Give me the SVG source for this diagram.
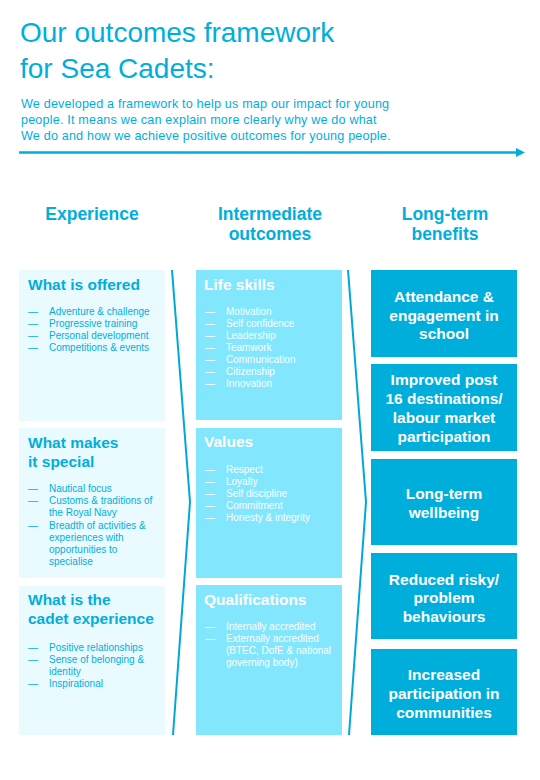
<svg xmlns="http://www.w3.org/2000/svg" width="540" height="780" viewBox="0 0 540 780">
<style>
text{font-family:"Liberation Sans",Arial,sans-serif;}
.title{font-size:28px;fill:#00aedb;}
.para{font-size:12.6px;letter-spacing:0.18px;fill:#00aedb;}
.colh{font-size:17.5px;font-weight:bold;fill:#00aedb;text-anchor:middle;}
.exp{fill:#e9fbff;}
.mid{fill:#82e6fd;}
.ben{fill:#00aedb;}
.h1{font-size:15.5px;font-weight:bold;fill:#00aedb;}
.h2{font-size:15.5px;font-weight:bold;fill:#ffffff;}
.b1{font-size:10px;fill:#00aedb;}
.b2{font-size:10px;fill:#ffffff;}
.bt{font-size:15.5px;font-weight:bold;fill:#ffffff;text-anchor:middle;}
.chev{fill:none;stroke:#00a8d8;stroke-width:2;stroke-linejoin:miter;}
</style>
<rect width="540" height="780" fill="#ffffff"/>
<g id="header">
<text class="title" x="20" y="42">Our outcomes framework</text>
<text class="title" x="20" y="78">for Sea Cadets:</text>
<text class="para" x="21" y="108">We developed a framework to help us map our impact for young</text>
<text class="para" x="21" y="124">people. It means we can explain more clearly why we do what</text>
<text class="para" x="21" y="140">We do and how we achieve positive outcomes for young people.</text>
</g>
<g id="column-headers">
<text class="colh" x="92" y="220">Experience</text>
<text class="colh" x="270" y="220">Intermediate</text>
<text class="colh" x="270" y="240">outcomes</text>
<text class="colh" x="445" y="220">Long-term</text>
<text class="colh" x="445" y="240">benefits</text>
</g>
<g id="connectors">
<line x1="19" y1="152.5" x2="517" y2="152.5" stroke="#00aedb" stroke-width="2.7"/>
<polygon points="516,148 525,152.5 516,157" fill="#00aedb"/>
<polyline class="chev" points="172,270 190,502 173,735"/>
<polyline class="chev" points="348,270 366,502 349,735"/>
</g>
<g id="what-is-offered">
<rect class="exp" x="19" y="270" width="146" height="151"/>
<text class="h1" x="28" y="289.5">What is offered</text>
<text class="b1" x="28" y="315">—</text><text class="b1" x="49" y="315">Adventure &amp; challenge</text>
<text class="b1" x="28" y="327">—</text><text class="b1" x="49" y="327">Progressive training</text>
<text class="b1" x="28" y="339">—</text><text class="b1" x="49" y="339">Personal development</text>
<text class="b1" x="28" y="351">—</text><text class="b1" x="49" y="351">Competitions &amp; events</text>
</g>
<g id="what-makes-it-special">
<rect class="exp" x="19" y="428" width="146" height="150"/>
<text class="h1" x="28" y="448">What makes</text>
<text class="h1" x="28" y="467">it special</text>
<text class="b1" x="28" y="492">—</text><text class="b1" x="49" y="492">Nautical focus</text>
<text class="b1" x="28" y="504.2">—</text><text class="b1" x="49" y="504.2">Customs &amp; traditions of</text>
<text class="b1" x="49" y="516.4">the Royal Navy</text>
<text class="b1" x="28" y="528.6">—</text><text class="b1" x="49" y="528.6">Breadth of activities &amp;</text>
<text class="b1" x="49" y="540.8">experiences with</text>
<text class="b1" x="49" y="553">opportunities to</text>
<text class="b1" x="49" y="565.2">specialise</text>
</g>
<g id="cadet-experience">
<rect class="exp" x="19" y="586" width="146" height="149"/>
<text class="h1" x="28" y="605">What is the</text>
<text class="h1" x="28" y="624">cadet experience</text>
<text class="b1" x="28" y="651">—</text><text class="b1" x="49" y="651">Positive relationships</text>
<text class="b1" x="28" y="663">—</text><text class="b1" x="49" y="663">Sense of belonging &amp;</text>
<text class="b1" x="49" y="675">identity</text>
<text class="b1" x="28" y="687">—</text><text class="b1" x="49" y="687">Inspirational</text>
</g>
<g id="life-skills">
<rect class="mid" x="196" y="270" width="146" height="150"/>
<text class="h2" x="204" y="289.5">Life skills</text>
<text class="b2" x="205" y="314.5">—</text><text class="b2" x="226" y="314.5">Motivation</text>
<text class="b2" x="205" y="326.5">—</text><text class="b2" x="226" y="326.5">Self confidence</text>
<text class="b2" x="205" y="338.5">—</text><text class="b2" x="226" y="338.5">Leadership</text>
<text class="b2" x="205" y="350.5">—</text><text class="b2" x="226" y="350.5">Teamwork</text>
<text class="b2" x="205" y="362.5">—</text><text class="b2" x="226" y="362.5">Communication</text>
<text class="b2" x="205" y="374.5">—</text><text class="b2" x="226" y="374.5">Citizenship</text>
<text class="b2" x="205" y="386.5">—</text><text class="b2" x="226" y="386.5">Innovation</text>
</g>
<g id="values">
<rect class="mid" x="196" y="428" width="146" height="150"/>
<text class="h2" x="204" y="447">Values</text>
<text class="b2" x="205" y="472.5">—</text><text class="b2" x="226" y="472.5">Respect</text>
<text class="b2" x="205" y="484.5">—</text><text class="b2" x="226" y="484.5">Loyalty</text>
<text class="b2" x="205" y="496.5">—</text><text class="b2" x="226" y="496.5">Self discipline</text>
<text class="b2" x="205" y="508.5">—</text><text class="b2" x="226" y="508.5">Commitment</text>
<text class="b2" x="205" y="520.5">—</text><text class="b2" x="226" y="520.5">Honesty &amp; integrity</text>
</g>
<g id="qualifications">
<rect class="mid" x="196" y="585" width="146" height="150"/>
<text class="h2" x="204" y="604.5">Qualifications</text>
<text class="b2" x="205" y="629.5">—</text><text class="b2" x="226" y="629.5">Internally accredited</text>
<text class="b2" x="205" y="641.5">—</text><text class="b2" x="226" y="641.5">Externally accredited</text>
<text class="b2" x="226" y="653.5">(BTEC, DofE &amp; national</text>
<text class="b2" x="226" y="665.5">governing body)</text>
</g>
<g id="attendance">
<rect class="ben" x="371" y="270" width="146" height="87"/>
<text class="bt" x="444" y="301.5">Attendance &amp;</text>
<text class="bt" x="444" y="320.5">engagement in</text>
<text class="bt" x="444" y="339">school</text>
</g>
<g id="post16">
<rect class="ben" x="371" y="364" width="146" height="87"/>
<text class="bt" x="444" y="385">Improved post</text>
<text class="bt" x="444" y="404">16 destinations/</text>
<text class="bt" x="444" y="423">labour market</text>
<text class="bt" x="444" y="441.5">participation</text>
</g>
<g id="wellbeing">
<rect class="ben" x="371" y="459" width="146" height="86"/>
<text class="bt" x="444" y="499">Long-term</text>
<text class="bt" x="444" y="518">wellbeing</text>
</g>
<g id="risky">
<rect class="ben" x="371" y="553" width="146" height="86"/>
<text class="bt" x="444" y="584.5">Reduced risky/</text>
<text class="bt" x="444" y="603">problem</text>
<text class="bt" x="444" y="622">behaviours</text>
</g>
<g id="communities">
<rect class="ben" x="371" y="649" width="146" height="86"/>
<text class="bt" x="444" y="680">Increased</text>
<text class="bt" x="444" y="699">participation in</text>
<text class="bt" x="444" y="717.5">communities</text>
</g>
</svg>
